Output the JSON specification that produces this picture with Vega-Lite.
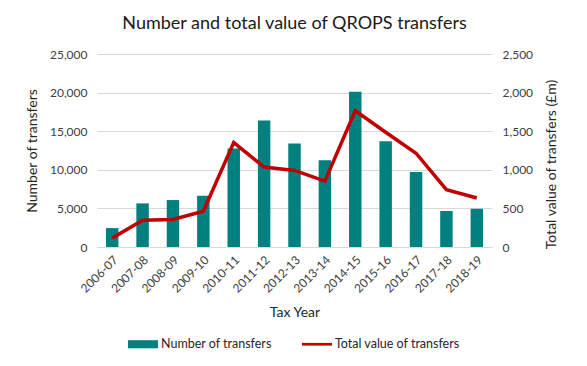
{
  "$schema": "https://vega.github.io/schema/vega-lite/v6.json",
  "width": 395,
  "height": 193,
  "autosize": {"type": "none"},
  "padding": {"left": 97, "top": 54, "right": 95, "bottom": 119},
  "title": {
    "text": "Number and total value of QROPS transfers",
    "font": "Lato",
    "fontSize": 18,
    "fontWeight": "normal",
    "color": "#1a1a1a",
    "anchor": "middle",
    "offset": 15
  },
  "data": {
    "values": [
      {"year": "2006-07", "number": 2450, "value": 115},
      {"year": "2007-08", "number": 5650, "value": 348},
      {"year": "2008-09", "number": 6080, "value": 357},
      {"year": "2009-10", "number": 6640, "value": 464},
      {"year": "2010-11", "number": 12770, "value": 1353},
      {"year": "2011-12", "number": 16400, "value": 1035},
      {"year": "2012-13", "number": 13400, "value": 992},
      {"year": "2013-14", "number": 11250, "value": 854},
      {"year": "2014-15", "number": 20100, "value": 1765},
      {"year": "2015-16", "number": 13700, "value": 1486},
      {"year": "2016-17", "number": 9700, "value": 1215},
      {"year": "2017-18", "number": 4660, "value": 743},
      {"year": "2018-19", "number": 4950, "value": 635}
    ]
  },
  "encoding": {
    "x": {
      "field": "year",
      "type": "nominal",
      "sort": null,
      "scale": {"paddingInner": 0.59, "paddingOuter": 0.295},
      "axis": {
        "title": "Tax Year",
        "labelAngle": -45,
        "labelPadding": 7,
        "domain": true,
        "domainColor": "#D9D9D9",
        "ticks": false,
        "titlePadding": 11
      }
    }
  },
  "layer": [
    {
      "mark": {"type": "bar", "color": "#00807F"},
      "encoding": {
        "y": {
          "field": "number",
          "type": "quantitative",
          "scale": {"domain": [0, 25000]},
          "axis": {
            "title": "Number of transfers",
            "values": [0, 5000, 10000, 15000, 20000, 25000],
            "format": ",.0f",
            "grid": true,
            "titlePadding": 10
          }
        },
        "color": {
          "datum": "Number of transfers",
          "scale": {
            "domain": ["Number of transfers", "Total value of transfers"],
            "range": ["#00807F", "#C00000"]
          },
          "legend": {
            "orient": "none",
            "direction": "horizontal",
            "legendX": 31,
            "legendY": 275,
            "title": null,
            "symbolSize": 900,
            "columnPadding": 30,
            "labelOffset": 3,
            "encode": {
              "symbols": {
                "update": {
                  "shape": {"signal": "datum.value === 'Number of transfers' ? 'M-1,-0.27H1V0.27H-1Z' : 'M-1,-0.09H1V0.09H-1Z'"},
                  "fill": {"signal": "datum.value === 'Number of transfers' ? '#00807F' : '#C00000'"},
                  "fillOpacity": {"value": 1},
                  "strokeWidth": {"value": 0}
                }
              }
            }
          }
        }
      }
    },
    {
      "mark": {"type": "line", "color": "#C00000", "strokeWidth": 3.5},
      "encoding": {
        "y": {
          "field": "value",
          "type": "quantitative",
          "scale": {"domain": [0, 2500]},
          "axis": {
            "orient": "right",
            "title": "Total value of transfers (£m)",
            "titleAngle": -90,
            "titleBaseline": "top",
            "titleY": 110,
            "values": [0, 500, 1000, 1500, 2000, 2500],
            "format": ",.0f",
            "grid": false,
            "titlePadding": 12
          }
        },
        "color": {"datum": "Total value of transfers"}
      }
    }
  ],
  "resolve": {"scale": {"y": "independent"}},
  "config": {
    "view": {"stroke": null},
    "font": "Lato",
    "axis": {
      "labelFont": "Lato",
      "labelFontSize": 12,
      "labelColor": "#404040",
      "titleFont": "Lato",
      "titleFontSize": 14,
      "titleFontWeight": "normal",
      "titleColor": "#262626",
      "gridColor": "#D9D9D9",
      "domain": false,
      "ticks": false,
      "labelPadding": 10
    },
    "legend": {
      "labelFont": "Lato",
      "labelFontSize": 12.5,
      "labelColor": "#262626",
      "padding": 0
    }
  }
}
